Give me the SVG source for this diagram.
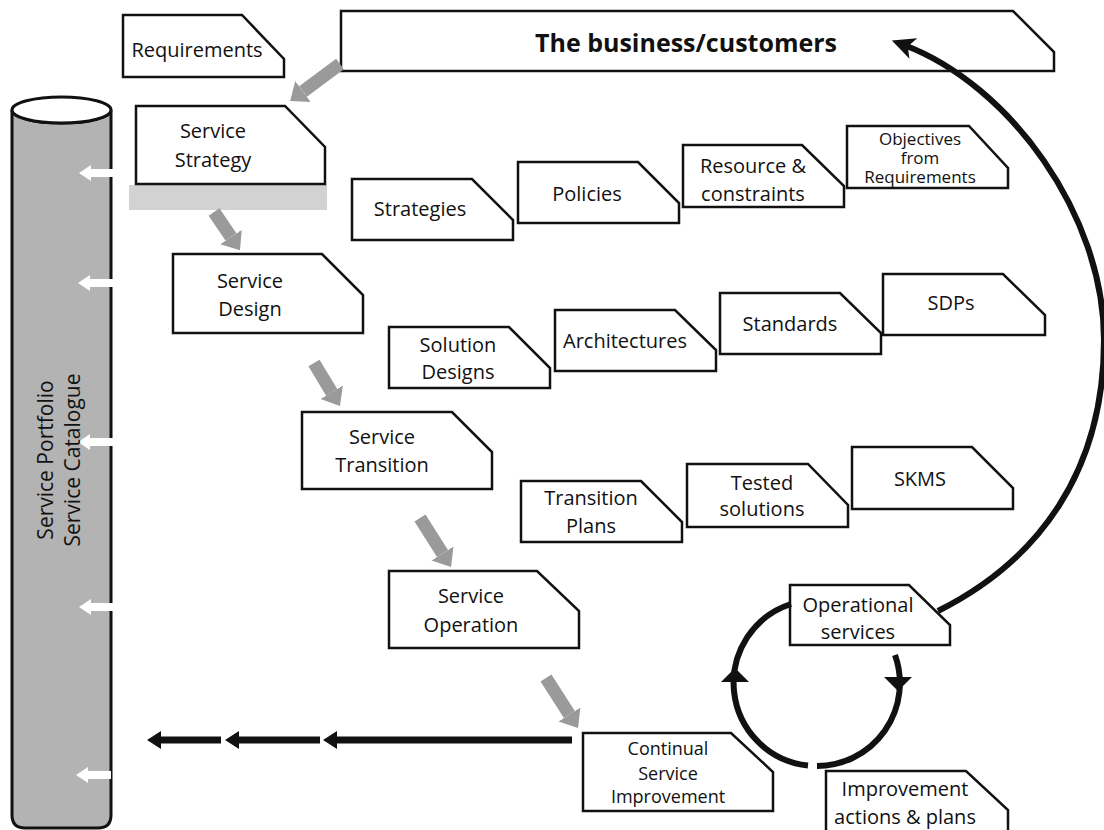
<svg xmlns="http://www.w3.org/2000/svg" width="1104" height="830" viewBox="0 0 1104 830">
<style>
.box{fill:#fff;stroke:#111;stroke-width:2.5;stroke-linejoin:miter}
.t{font-family:"Open Sans","Noto Sans","Liberation Sans",sans-serif;font-size:20px;text-anchor:middle;fill:#111}
.s18{font-size:18px}
.s17{font-size:17px}
.b{font-weight:bold;font-size:25px}
.garrow{stroke:#9a9a9a;stroke-width:13;fill:none;marker-end:url(#gh)}
.barrow{stroke:#111;stroke-width:7;fill:none;marker-end:url(#bh)}
.curve{stroke:#111;stroke-width:6;fill:none}
.warrow{fill:#fff}
</style>
<defs>
<marker id="gh" markerUnits="userSpaceOnUse" markerWidth="18" markerHeight="28" viewBox="0 -14 18 28" refX="0" refY="0" orient="auto">
<path d="M0,-13 L16,0 L0,13 z" fill="#9a9a9a"/>
</marker>
<marker id="bh" markerUnits="userSpaceOnUse" markerWidth="16" markerHeight="20" viewBox="0 -10 16 20" refX="0" refY="0" orient="auto">
<path d="M0,-9 L14,0 L0,9 z" fill="#111"/>
</marker>
<marker id="bigh" markerUnits="userSpaceOnUse" markerWidth="28" markerHeight="26" viewBox="-12 -13 28 26" refX="0" refY="0" orient="auto">
<path d="M13,0 L-10,-11 L-4,0 L-10,11 z" fill="#111"/>
</marker>
<polygon id="wa" points="0,0 12,-8 12,-4 35,-4 35,4 12,4 12,8"/>
</defs>

<g id="portfolio">
<path d="M12,110 L12,815 Q12,828 25,828 L98,828 Q111,828 111,815 L111,110 A49.5,13 0 0 1 12,110 z" fill="#b3b3b3" stroke="#111" stroke-width="3"/>
<ellipse cx="61.5" cy="110" rx="49.5" ry="13" fill="#fff" stroke="#111" stroke-width="3"/>
<g class="warrow">
<use href="#wa" x="79" y="173"/>
<use href="#wa" x="78" y="283"/>
<use href="#wa" x="78" y="442"/>
<use href="#wa" x="79" y="607"/>
<use href="#wa" x="76" y="775"/>
</g>
<text class="t" style="font-size:21px" transform="translate(53,460) rotate(-90)">Service Portfolio</text>
<text class="t" style="font-size:21px" transform="translate(80,460) rotate(-90)">Service Catalogue</text>
</g>

<rect id="strategy-shadow" x="129" y="185" width="198" height="25" fill="#d2d2d2"/>

<g id="requirements"><polygon class="box" points="123,15 242,15 284,59 284,77 123,77"/><text class="t" x="197" y="57">Requirements</text></g>
<g id="business"><polygon class="box" points="341,11 1013,11 1054,52 1054,71 341,71"/><text class="t b" x="686" y="52">The business/customers</text></g>
<g id="service-strategy"><polygon class="box" points="136,106 285,106 325,147 325,184 136,184"/><text class="t" x="213" y="138">Service</text><text class="t" x="213" y="167">Strategy</text></g>
<g id="service-design"><polygon class="box" points="173,254 322,254 363,295 363,333 173,333"/><text class="t" x="250" y="288">Service</text><text class="t" x="250" y="316">Design</text></g>
<g id="service-transition"><polygon class="box" points="302,412 452,412 492,452 492,489 302,489"/><text class="t" x="382" y="444">Service</text><text class="t" x="382" y="472">Transition</text></g>
<g id="service-operation"><polygon class="box" points="389,571 537,571 579,611 579,648 389,648"/><text class="t" x="471" y="603">Service</text><text class="t" x="471" y="632">Operation</text></g>
<g id="csi"><polygon class="box" points="583,733 731,733 773,772 773,811 583,811"/><text class="t s18" x="668" y="755">Continual</text><text class="t s18" x="668" y="780">Service</text><text class="t s18" x="668" y="803">Improvement</text></g>

<g id="strategies"><polygon class="box" points="352,179 472,179 513,220 513,240 352,240"/><text class="t" x="420" y="216">Strategies</text></g>
<g id="policies"><polygon class="box" points="518,162 638,162 679,203 679,223 518,223"/><text class="t" x="587" y="201">Policies</text></g>
<g id="resource"><polygon class="box" points="683,145 802,145 844,186 844,207 683,207"/><text class="t" x="753" y="173">Resource &amp;</text><text class="t" x="753" y="201">constraints</text></g>
<g id="objectives"><polygon class="box" points="847,126 969,126 1008,168 1008,188 847,188"/><text class="t s17" x="920" y="145">Objectives</text><text class="t s17" x="920" y="164">from</text><text class="t s17" x="920" y="183">Requirements</text></g>

<g id="solution-designs"><polygon class="box" points="389,327 509,327 550,368 550,388 389,388"/><text class="t" x="458" y="352">Solution</text><text class="t" x="458" y="379">Designs</text></g>
<g id="architectures"><polygon class="box" points="555,310 675,310 716,350 716,371 555,371"/><text class="t" x="625" y="348">Architectures</text></g>
<g id="standards"><polygon class="box" points="720,293 840,293 881,333 881,354 720,354"/><text class="t" x="790" y="331">Standards</text></g>
<g id="sdps"><polygon class="box" points="883,274 1003,274 1045,315 1045,335 883,335"/><text class="t" x="951" y="310">SDPs</text></g>

<g id="transition-plans"><polygon class="box" points="521,481 641,481 682,522 682,542 521,542"/><text class="t" x="591" y="505">Transition</text><text class="t" x="591" y="533">Plans</text></g>
<g id="tested-solutions"><polygon class="box" points="687,464 808,464 848,505 848,527 687,527"/><text class="t" x="762" y="490">Tested</text><text class="t" x="762" y="516">solutions</text></g>
<g id="skms"><polygon class="box" points="852,447 972,447 1013,488 1013,509 852,509"/><text class="t" x="920" y="486">SKMS</text></g>

<g id="operational-services"><polygon class="box" points="790,585 909,585 950,625 950,645 790,645"/><text class="t" x="858" y="612">Operational</text><text class="t" x="858" y="639">services</text></g>
<g id="improvement-actions"><polygon class="box" points="826,771 966,771 1008,810 1008,834 826,834"/><text class="t" x="905" y="796">Improvement</text><text class="t" x="905" y="824">actions &amp; plans</text></g>

<g id="connectors">
<line class="garrow" x1="340" y1="64" x2="303" y2="91.5"/>
<line class="garrow" x1="214" y1="212" x2="231" y2="237"/>
<line class="garrow" x1="314" y1="363" x2="331.7" y2="392.3"/>
<line class="garrow" x1="420" y1="518" x2="442.5" y2="553.5"/>
<line class="garrow" x1="546" y1="678" x2="569.4" y2="714.5"/>
<line class="barrow" x1="572" y1="740" x2="337" y2="740"/>
<line class="barrow" x1="320" y1="740" x2="239" y2="740"/>
<line class="barrow" x1="221" y1="740" x2="161" y2="740"/>
<path class="curve" d="M938,611 C1040,560 1104,470 1104,340 C1104,215 1010,85 904,45" marker-end="url(#bigh)"/>
<path class="curve" d="M895,655 A83,83 0 0 1 817,766"/>
<path class="curve" d="M808,765.5 A83,83 0 0 1 791,604"/>
<polygon points="735,668 721,682 749,682" fill="#111"/>
<polygon points="898,691 884,677 912,677" fill="#111"/>
</g>
</svg>
